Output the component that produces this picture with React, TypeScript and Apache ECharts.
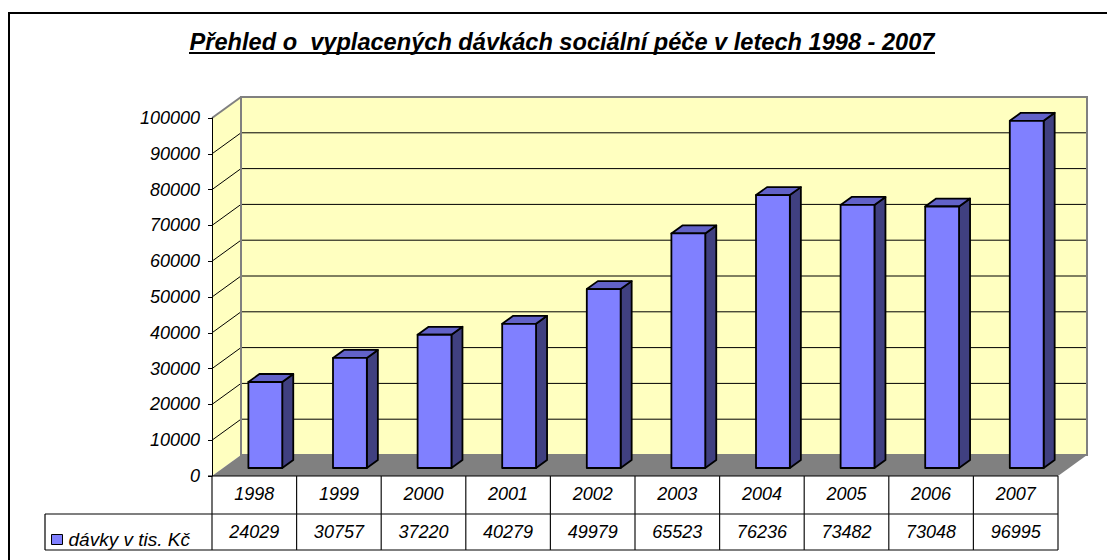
import React, { useEffect, useRef } from "react";
import * as echarts from "echarts";

const years = ["1998", "1999", "2000", "2001", "2002", "2003", "2004", "2005", "2006", "2007"];
const values = [24029, 30757, 37220, 40279, 49979, 65523, 76236, 73482, 73048, 96995];
const seriesName = "dávky v tis. Kč";
const titleText = "Přehled o  vyplacených dávkách sociální péče v letech 1998 - 2007";
const Y_MIN = 0;
const Y_MAX = 100000;
const Y_STEP = 10000;
const gridTicks = [10000, 20000, 30000, 40000, 50000, 60000, 70000, 80000, 90000];

// 3D depth styling
const DX = 29;
const DY = -21;
const F0 = 0.38;
const F1 = 0.76;
const BAR_RATIO = 0.4;
const ROW1 = 38;
const ROW2 = 36;
const LEGEND_LEFT = 45;

const FONT = "Liberation Sans, Arial, sans-serif";
const FRONT = "#8080FF";
const SIDE = "#404080";
const TOP = "#6262C8";
const WALL = "#FFFFC0";
const EDGE = "#808080";

export default function App() {
  const ref = useRef<HTMLDivElement>(null);
  useEffect(() => {
    const chart = echarts.init(ref.current!, null, { renderer: "svg" });
    const option: any = {
      animation: false,
      backgroundColor: "#fff",
      grid: { left: 212, top: 118, right: 49, bottom: 84, containLabel: false },
      legend: {
        data: [{ name: seriesName, icon: "rect" }],
        left: 51,
        top: 530,
        itemWidth: 11,
        itemHeight: 10,
        itemGap: 6,
        itemStyle: { borderColor: "#000", borderWidth: 1 },
        textStyle: { fontFamily: FONT, fontStyle: "italic", fontSize: 19, color: "#000", padding: [0, 0, 0, 1] },
        padding: 0,
      },
      xAxis: {
        type: "category",
        data: years,
        axisLine: { show: false },
        axisTick: { show: false },
        splitLine: { show: false },
        axisLabel: { margin: 9, fontFamily: FONT, fontStyle: "italic", fontSize: 18, color: "#000" },
      },
      yAxis: {
        type: "value",
        min: Y_MIN,
        max: Y_MAX,
        interval: Y_STEP,
        z: 10,
        axisLine: { show: true, lineStyle: { color: "#000", width: 1 } },
        axisTick: { show: true, length: 4, lineStyle: { color: "#000" } },
        splitLine: { show: false },
        axisLabel: {
          margin: 12,
          fontFamily: FONT,
          fontStyle: "italic",
          fontSize: 18,
          color: "#000",
          formatter: (v: number) => String(v),
        },
      },
      graphic: [
        { type: "rect", shape: { x: 9, y: 13, width: 1200, height: 600 }, style: { fill: "none", stroke: "#000", lineWidth: 2 }, z: 100 },
        {
          type: "text",
          x: 562,
          y: 42,
          style: { text: titleText, font: `italic bold 23.6px ${FONT}`, fill: "#000", textAlign: "center", textVerticalAlign: "middle" },
        },
        { type: "line", shape: { x1: 189, y1: 53, x2: 935, y2: 53 }, style: { stroke: "#000", lineWidth: 2 } },
      ],
      series: [
        {
          type: "custom",
          name: "walls",
          z: 1,
          silent: true,
          data: [[0, 0]],
          renderItem: (params: any, api: any) => {
            const cs = params.coordSys;
            const x = cs.x, y = cs.y, w = cs.width, h = cs.height;
            const children: any[] = [];
            children.push({ type: "polygon", shape: { points: [[x, y + h], [x, y], [x + DX, y + DY], [x + DX, y + h + DY]] }, style: { fill: WALL, stroke: "none" } });
            children.push({ type: "rect", shape: { x: x + DX, y: y + DY, width: w, height: h }, style: { fill: WALL, stroke: "none" } });
            gridTicks.forEach((t) => {
              const yy = api.coord([0, t])[1];
              children.push({ type: "line", shape: { x1: x, y1: yy, x2: x + DX, y2: yy + DY }, style: { stroke: "#000", lineWidth: 1 } });
              children.push({ type: "line", shape: { x1: x + DX, y1: yy + DY, x2: x + DX + w, y2: yy + DY }, style: { stroke: "#000", lineWidth: 1 } });
            });
            children.push({ type: "rect", shape: { x: x + DX, y: y + DY, width: w, height: h }, style: { fill: "none", stroke: EDGE, lineWidth: 2 } });
            children.push({ type: "line", shape: { x1: x, y1: y, x2: x + DX, y2: y + DY }, style: { stroke: EDGE, lineWidth: 2 } });
            children.push({ type: "polygon", shape: { points: [[x, y + h], [x + DX, y + h + DY], [x + w + DX, y + h + DY], [x + w, y + h]] }, style: { fill: EDGE, stroke: "none" } });
            // table horizontal lines
            children.push({ type: "line", shape: { x1: x - 4, y1: y + h, x2: x + w, y2: y + h }, style: { stroke: "#000", lineWidth: 1.2 } });
            children.push({ type: "line", shape: { x1: LEGEND_LEFT, y1: y + h + ROW1, x2: x + w, y2: y + h + ROW1 }, style: { stroke: "#000", lineWidth: 1.2 } });
            children.push({ type: "line", shape: { x1: LEGEND_LEFT, y1: y + h + ROW1 + ROW2, x2: x + w, y2: y + h + ROW1 + ROW2 }, style: { stroke: "#000", lineWidth: 1.2 } });
            children.push({ type: "line", shape: { x1: LEGEND_LEFT, y1: y + h + ROW1, x2: LEGEND_LEFT, y2: y + h + ROW1 + ROW2 }, style: { stroke: "#000", lineWidth: 1.2 } });
            return { type: "group", children };
          },
        },
        {
          type: "custom",
          name: seriesName,
          z: 3,
          itemStyle: { color: FRONT },
          data: values.map((v, i) => [i, v]),
          encode: { x: 0, y: 1 },
          renderItem: (params: any, api: any) => {
            const i = api.value(0);
            const v = api.value(1);
            const top = api.coord([i, v]);
            const base = api.coord([i, 0]);
            const bw = api.size([1, 0])[0] * BAR_RATIO;
            const ox = F0 * DX, oy = F0 * DY;
            const dx = (F1 - F0) * DX, dy = (F1 - F0) * DY;
            const x0 = top[0] - bw / 2 + ox;
            const x1 = x0 + bw;
            const yt = top[1] + oy;
            const yb = base[1] + oy;
            const st = { stroke: "#000", lineWidth: 1.8, lineJoin: "round" };
            return {
              type: "group",
              children: [
                { type: "polygon", shape: { points: [[x1, yt], [x1 + dx, yt + dy], [x1 + dx, yb + dy], [x1, yb]] }, style: { fill: SIDE, ...st } },
                { type: "polygon", shape: { points: [[x0, yt], [x0 + dx, yt + dy], [x1 + dx, yt + dy], [x1, yt]] }, style: { fill: TOP, ...st } },
                { type: "rect", shape: { x: x0, y: yt, width: bw, height: yb - yt }, style: { fill: FRONT, ...st } },
              ],
            };
          },
        },
        {
          type: "custom",
          name: "table",
          z: 4,
          silent: true,
          data: values.map((v, i) => [i, v]),
          renderItem: (params: any, api: any) => {
            const i = api.value(0);
            const v = api.value(1);
            const base = api.coord([i, 0]);
            const cw = api.size([1, 0])[0];
            const left = base[0] - cw / 2;
            const children: any[] = [
              { type: "line", shape: { x1: left, y1: base[1], x2: left, y2: base[1] + ROW1 + ROW2 }, style: { stroke: "#111", lineWidth: 1.2 } },
              {
                type: "text",
                x: base[0],
                y: base[1] + ROW1 + ROW2 / 2,
                style: { text: String(v), font: `italic 18px ${FONT}`, fill: "#000", textAlign: "center", textVerticalAlign: "middle" },
              },
            ];
            if (i === values.length - 1) {
              children.push({ type: "line", shape: { x1: left + cw, y1: base[1], x2: left + cw, y2: base[1] + ROW1 + ROW2 }, style: { stroke: "#111", lineWidth: 1.2 } });
            }
            return { type: "group", children };
          },
        },
      ],
    };
    chart.setOption(option);
    return () => chart.dispose();
  }, []);
  return <div ref={ref} style={{ position: "fixed", left: 0, top: 0, width: 1107, height: 560 }} />;
}
